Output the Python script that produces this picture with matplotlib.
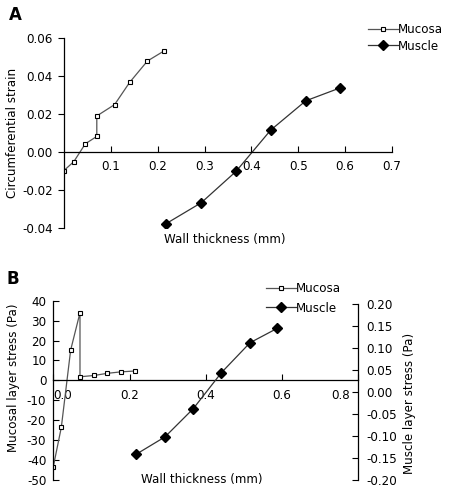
import matplotlib
matplotlib.use("Agg")
import matplotlib.pyplot as plt
from matplotlib.lines import Line2D
import matplotlib.transforms as mtransforms

# Data
mucosa_x = [0.0, 0.021, 0.0455, 0.070, 0.070, 0.108, 0.140, 0.178, 0.214]
mucosa_strain = [-0.0098, -0.0051, 0.0043, 0.0082, 0.019, 0.025, 0.0367, 0.048, 0.0534]
mucosa_stress = [-43.3, -23.6, 15.2, 34.0, 1.8, 2.5, 3.5, 4.3, 4.7]

muscle_x = [0.217, 0.293, 0.367, 0.441, 0.516, 0.588]
muscle_strain = [-0.038, -0.0268, -0.0103, 0.0115, 0.027, 0.0337]
muscle_stress = [-0.1417, -0.102, -0.038, 0.044, 0.112, 0.145]

xticks_a = [0.1, 0.2, 0.3, 0.4, 0.5, 0.6, 0.7]
yticks_a = [-0.04, -0.02, 0.00, 0.02, 0.04, 0.06]
xticks_b = [0.0, 0.2, 0.4, 0.6, 0.8]
yticks_b_left = [-50, -40, -30, -20, -10, 0, 10, 20, 30, 40]
yticks_b_right = [-0.20, -0.15, -0.10, -0.05, 0.00, 0.05, 0.10, 0.15, 0.20]

plt.rcParams['font.family'] = ['DejaVu Sans']
FS = 8.6
W, H = 450, 496
fig = plt.figure(figsize=(W / 100, H / 100), dpi=100)

def frac(l, r, t, b):
    return [l / W, 1 - b / H, (r - l) / W, (b - t) / H]

muc_kw = dict(color='#555555', lw=0.9, marker='s', ms=3.3, mfc='white', mec='black', mew=0.8)
mus_kw = dict(color='#333333', lw=0.9, marker='D', ms=4.6, mfc='black', mec='black')

# ---------- Panel A ----------
ax = fig.add_axes(frac(64, 392, 38.3, 227.7))
ax.plot(mucosa_x, mucosa_strain, **muc_kw)
ax.plot(muscle_x, muscle_strain, **mus_kw)
ax.set_xlim(0, 0.7)
ax.set_ylim(-0.04, 0.06)
for s in ['top', 'right']:
    ax.spines[s].set_visible(False)
ax.spines['bottom'].set_position(('data', 0))
ax.spines['left'].set_linewidth(0.9)
ax.spines['bottom'].set_linewidth(0.9)
ax.set_xticks(xticks_a)
ax.set_xticklabels([f"{v:.1f}" for v in xticks_a], fontsize=FS)
ax.tick_params(axis='x', direction='in', length=4, width=0.8, pad=6)
ax.set_yticks(yticks_a)
ax.set_yticklabels([f"{v:.2f}" for v in yticks_a], fontsize=FS)
ax.tick_params(axis='y', direction='out', length=4, width=0.8, pad=4)
fig.text(13 / W, 1 - 133 / H, 'Circumferential strain', rotation=90, fontsize=FS,
         ha='center', va='center')
fig.text(225 / W, 1 - 239 / H, 'Wall thickness (mm)', fontsize=FS, ha='center', va='center')
fig.text(9 / W, 1 - 15 / H, 'A', fontsize=12, fontweight='bold', ha='left', va='center')

handles = [Line2D([], [], **muc_kw), Line2D([], [], **mus_kw)]
fig.legend(handles, ['Mucosa', 'Muscle'], loc='upper left', bbox_to_anchor=(368 / W, 1 - 23 / H),
           frameon=False, fontsize=FS, handlelength=2.5, handletextpad=0.0, labelspacing=0.3,
           borderpad=0, borderaxespad=0)

# ---------- Panel B ----------
bx = fig.add_axes(frac(53.3, 358.3, 300.7, 480))
bx.plot(mucosa_x, mucosa_stress, **muc_kw)
bx.set_xlim(0, 0.8)
bx.set_ylim(-50, 40)
for s in ['top', 'right']:
    bx.spines[s].set_visible(False)
bx.spines['bottom'].set_position(('data', 0))
bx.spines['left'].set_linewidth(0.9)
bx.spines['bottom'].set_linewidth(0.9)
bx.set_xticks(xticks_b)
bx.set_xticklabels([f"{v:.1f}" for v in xticks_b], fontsize=FS)
bx.tick_params(axis='x', direction='in', length=4, width=0.8, pad=6)
xl = bx.get_xticklabels()
xl[0].set_ha('left')
xl[-1].set_ha('right')
xl[-1].set_transform(xl[-1].get_transform() + mtransforms.ScaledTranslation(-8 / 100, 0, fig.dpi_scale_trans))
bx.set_yticks(yticks_b_left)
bx.set_yticklabels([str(v) for v in yticks_b_left], fontsize=FS)
bx.tick_params(axis='y', direction='in', length=4, width=0.8, pad=5)

bx2 = bx.twinx()
bx2.plot(muscle_x, muscle_stress, **mus_kw)
bx2.set_ylim(-0.20, 0.2075)
for s in ['top', 'left', 'bottom']:
    bx2.spines[s].set_visible(False)
bx2.spines['right'].set_bounds(-0.20, 0.20)
bx2.spines['right'].set_linewidth(0.9)
bx2.set_yticks(yticks_b_right)
bx2.set_yticklabels([f"{v:.2f}" for v in yticks_b_right], fontsize=FS)
bx2.tick_params(axis='y', direction='in', length=4, width=0.8, pad=6)

fig.text(14 / W, 1 - 378 / H, 'Mucosal layer stress (Pa)', rotation=90, fontsize=FS,
         ha='center', va='center')
fig.text(409 / W, 1 - 403 / H, 'Muscle layer stress (Pa)', rotation=90, fontsize=FS,
         ha='center', va='center')
fig.text(202 / W, 1 - 480 / H, 'Wall thickness (mm)', fontsize=FS, ha='center', va='center')
fig.text(7 / W, 1 - 279 / H, 'B', fontsize=12, fontweight='bold', ha='left', va='center')

fig.legend(handles, ['Mucosa', 'Muscle'], loc='upper left', bbox_to_anchor=(266 / W, 1 - 282 / H),
           frameon=False, fontsize=FS, handlelength=2.5, handletextpad=0.0, labelspacing=0.55,
           borderpad=0, borderaxespad=0)

fig.savefig('out.png', dpi=100)
